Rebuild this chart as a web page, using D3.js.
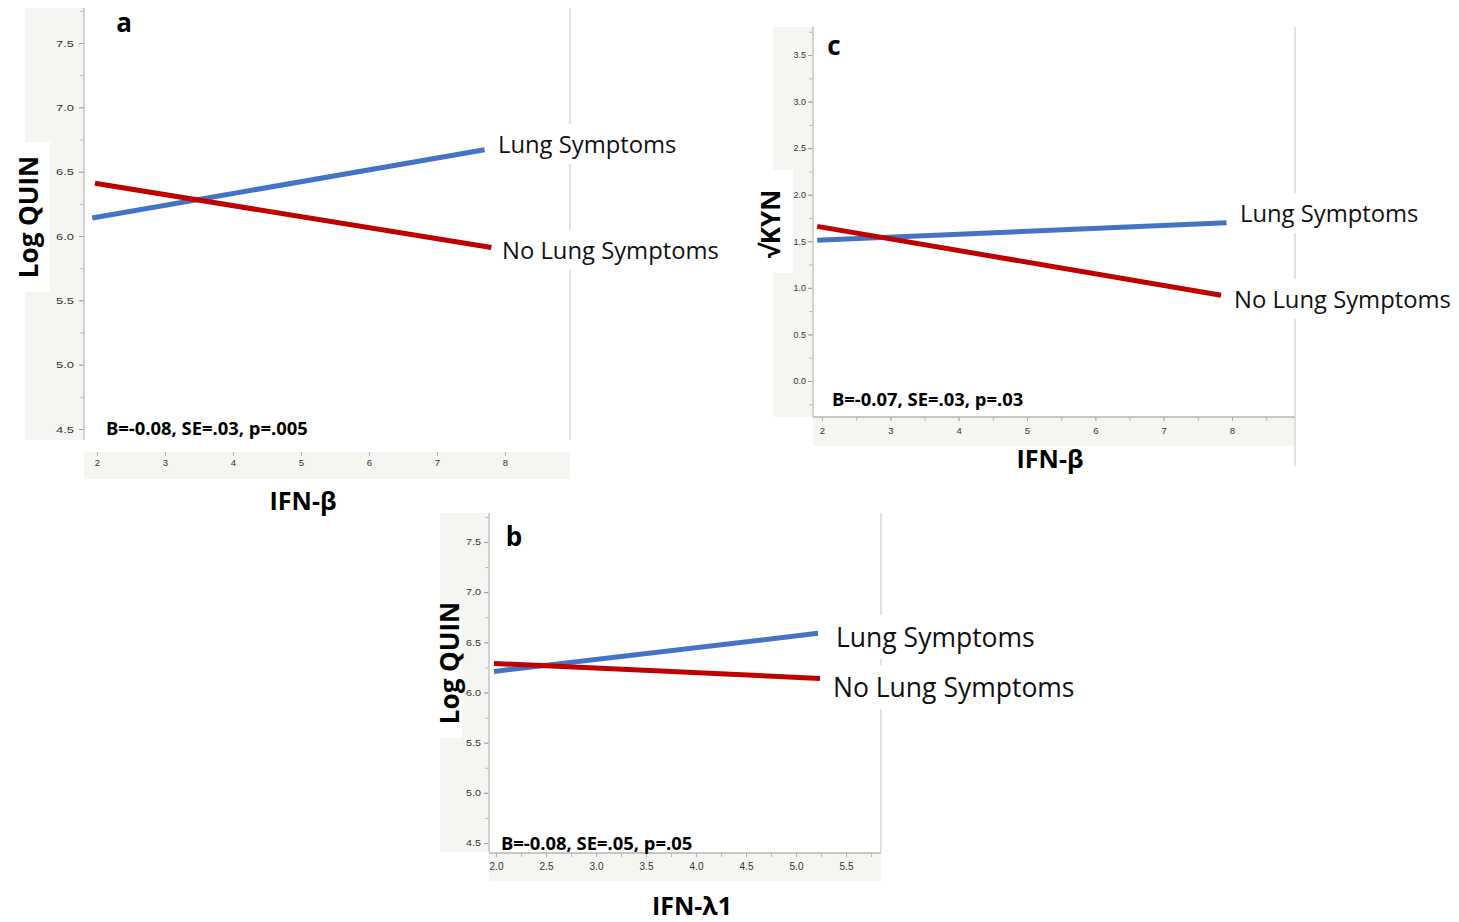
<!DOCTYPE html>
<html>
<head>
<meta charset="utf-8">
<script src="https://cdn.jsdelivr.net/npm/d3@7"></script>
<style>
  html, body { margin: 0; padding: 0; background: #fff; }
  svg { display: block; }
</style>
</head>
<body>
<svg id="chart" width="1459" height="922"></svg>
<script>
// ---------- DATA ----------
const groupNames = ["Lung Symptoms", "No Lung Symptoms"];

// Panel a : Log QUIN vs IFN-β
const aLungX = [1.93, 7.70];
const aLungY = [6.14, 6.67];
const aNoLungX = [1.97, 7.80];
const aNoLungY = [6.41, 5.91];
const aYTicks = [4.5, 5.0, 5.5, 6.0, 6.5, 7.0, 7.5];
const aXTicks = [2, 3, 4, 5, 6, 7, 8];

// Panel c : √KYN vs IFN-β
const cLungX = [1.93, 7.92];
const cLungY = [1.51, 1.70];
const cNoLungX = [1.93, 7.84];
const cNoLungY = [1.66, 0.92];
const cYTicks = [0.0, 0.5, 1.0, 1.5, 2.0, 2.5, 3.0, 3.5];
const cXTicks = [2, 3, 4, 5, 6, 7, 8];

// Panel b : Log QUIN vs IFN-λ1
const bLungX = [1.98, 5.22];
const bLungY = [6.21, 6.59];
const bNoLungX = [1.98, 5.24];
const bNoLungY = [6.29, 6.14];
const bYTicks = [4.5, 5.0, 5.5, 6.0, 6.5, 7.0, 7.5];
const bXTicks = [2.0, 2.5, 3.0, 3.5, 4.0, 4.5, 5.0, 5.5];

const colors = { lung: "#4472c4", noLung: "#c00000" };
const bandFill = "#f5f5f1";

// ---------- DRAWING ----------
const svg = d3.select("#chart");

function drawPanel(p) {
  const g = svg.append("g");
  const x = d3.scaleLinear().domain(p.xDom).range(p.xRng);
  const y = d3.scaleLinear().domain(p.yDom).range(p.yRng);

  // y-axis band
  g.append("rect").attr("x", p.bandLeft).attr("y", p.top)
    .attr("width", p.left - p.bandLeft).attr("height", p.bottom - p.top)
    .attr("fill", bandFill);
  // x-axis band
  g.append("rect").attr("x", p.left).attr("y", p.xBandTop)
    .attr("width", p.right - p.left).attr("height", p.xBandBottom - p.xBandTop)
    .attr("fill", bandFill);

  // right border
  g.append("line").attr("x1", p.right).attr("x2", p.right)
    .attr("y1", p.top).attr("y2", p.rightBottom)
    .attr("stroke", "#d4d4d4").attr("stroke-width", 1.3);

  // y axis
  const yMinor = d3.range(p.yDom[0] - p.yMinorStep * 2, p.yDom[1] + p.yMinorStep * 2, p.yMinorStep)
    .filter(v => y(v) >= p.top && y(v) <= p.bottom);
  const yAxisMinor = d3.axisLeft(y).tickValues(yMinor).tickSize(4).tickFormat("");
  const gym = g.append("g").attr("transform", `translate(${p.left},0)`).call(yAxisMinor);
  gym.select(".domain").remove();
  gym.selectAll("line").attr("stroke", "#b8b8b8");

  const yAxis = d3.axisLeft(y).tickValues(p.yTicks).tickSize(5).tickPadding(p.yPad)
    .tickFormat(d3.format(".1f"));
  const gy = g.append("g").attr("transform", `translate(${p.left},0)`).call(yAxis);
  gy.select(".domain").remove();
  gy.selectAll("line").attr("stroke", "#a0a0a0");
  gy.selectAll("text").attr("font-family", "Liberation Sans, Arial, sans-serif")
    .attr("font-size", p.yTickSize).attr("fill", "#333")
    .attr("textLength", p.yTickWidth).attr("lengthAdjust", "spacingAndGlyphs");
  g.append("line").attr("x1", p.left).attr("x2", p.left)
    .attr("y1", p.top).attr("y2", p.bottom).attr("stroke", "#c4c4c4").attr("stroke-width", 1.5);

  // x axis
  if (p.xMinorStep) {
    const xMinor = d3.range(p.xDom[0] - p.xMinorStep * 2, p.xDom[1] + p.xMinorStep * 4, p.xMinorStep)
      .filter(v => x(v) >= p.left && x(v) <= p.right);
    const gxm = g.append("g").attr("transform", `translate(0,${p.xBandTop})`)
      .call(d3.axisBottom(x).tickValues(xMinor).tickSize(4).tickFormat(""));
    gxm.select(".domain").remove();
    gxm.selectAll("line").attr("stroke", "#b8b8b8");
  }
  const xAxis = d3.axisBottom(x).tickValues(p.xTicks).tickSize(4).tickPadding(p.xPad)
    .tickFormat(p.xFormat);
  const gx = g.append("g").attr("transform", `translate(0,${p.xBandTop})`).call(xAxis);
  gx.select(".domain").remove();
  gx.selectAll("line").attr("stroke", "#b0b0b0");
  gx.selectAll("text").attr("font-family", "Liberation Sans, Arial, sans-serif")
    .attr("font-size", p.xTickSize).attr("fill", "#333");
  if (p.xAxisLine) {
    g.append("line").attr("x1", p.left).attr("x2", p.right)
      .attr("y1", p.xBandTop).attr("y2", p.xBandTop)
      .attr("stroke", "#b4b4b4").attr("stroke-width", 1.5);
  }

  // series lines
  const line = d3.line().x(d => x(d[0])).y(d => y(d[1]));
  const series = [
    { xs: p.lungX, ys: p.lungY, color: colors.lung },
    { xs: p.noLungX, ys: p.noLungY, color: colors.noLung }
  ];
  series.forEach(s => {
    g.append("path").datum(d3.zip(s.xs, s.ys)).attr("d", line)
      .attr("fill", "none").attr("stroke", s.color).attr("stroke-width", 5);
  });

  // series labels with white backing
  p.labels.forEach((lb, i) => {
    const bg = g.append("rect").attr("fill", "#fff");
    const t = g.append("text").attr("x", lb.x).attr("y", lb.y)
      .attr("dominant-baseline", "central")
      .attr("font-family", "Open Sans, sans-serif").attr("font-size", p.labelSize)
      .attr("fill", "#111").text(groupNames[i]);
    const bb = t.node().getBBox();
    bg.attr("x", bb.x - 6).attr("y", bb.y - 4)
      .attr("width", bb.width + 12).attr("height", bb.height + 8);
  });

  // y title with white box
  g.append("rect").attr("x", p.yBox[0]).attr("y", p.yBox[1])
    .attr("width", p.yBox[2]).attr("height", p.yBox[3]).attr("fill", "#fff");
  g.append("text").attr("transform", `translate(${p.yTitlePos[0]},${p.yTitlePos[1]}) rotate(-90)`)
    .attr("text-anchor", "middle").attr("dominant-baseline", "central")
    .attr("font-family", "Open Sans, sans-serif").attr("font-weight", "bold")
    .attr("font-size", 26).attr("fill", "#000").text(p.yTitle);

  // panel letter
  g.append("text").attr("x", p.letterPos[0]).attr("y", p.letterPos[1])
    .attr("text-anchor", "middle").attr("dominant-baseline", "central")
    .attr("font-family", "Open Sans, sans-serif").attr("font-weight", "bold")
    .attr("font-size", 26).attr("fill", "#000").text(p.letter);

  // stats
  g.append("text").attr("x", p.statPos[0]).attr("y", p.statPos[1])
    .attr("dominant-baseline", "central")
    .attr("font-family", "Open Sans, sans-serif").attr("font-weight", "bold")
    .attr("font-size", 18.4).attr("fill", "#000").text(p.stat);

  // x title
  g.append("text").attr("x", p.xTitlePos[0]).attr("y", p.xTitlePos[1])
    .attr("text-anchor", "middle").attr("dominant-baseline", "central")
    .attr("font-family", "Open Sans, sans-serif").attr("font-weight", "bold")
    .attr("font-size", 25).attr("fill", "#000").text(p.xTitle);
}

drawPanel({
  xDom: [2, 8], xRng: [97, 505], yDom: [4.5, 7.5], yRng: [429, 43],
  left: 84, right: 570, top: 8, bottom: 440, bandLeft: 25, rightBottom: 440,
  xBandTop: 452, xBandBottom: 479, xAxisLine: false, xMinorStep: null,
  yMinorStep: 0.25, yTicks: aYTicks, xTicks: aXTicks, xFormat: d3.format("d"),
  yTickSize: 9.5, yTickWidth: 18, yPad: 5, xTickSize: 9.5, xPad: 3,
  lungX: aLungX, lungY: aLungY, noLungX: aNoLungX, noLungY: aNoLungY,
  labels: [{ x: 498, y: 144 }, { x: 502, y: 250 }], labelSize: 23.8,
  yBox: [25, 142, 25, 150], yTitlePos: [28, 217], yTitle: "Log QUIN",
  letter: "a", letterPos: [124, 22],
  stat: "B=-0.08, SE=.03, p=.005", statPos: [106, 427],
  xTitle: "IFN-β", xTitlePos: [303, 500]
});

drawPanel({
  xDom: [2, 8], xRng: [822, 1232], yDom: [0, 3.5], yRng: [381, 55],
  left: 813, right: 1295, top: 27, bottom: 417, bandLeft: 773, rightBottom: 466,
  xBandTop: 417, xBandBottom: 446, xAxisLine: true, xMinorStep: 0.5,
  yMinorStep: 0.25, yTicks: cYTicks, xTicks: cXTicks, xFormat: d3.format("d"),
  yTickSize: 8.5, yTickWidth: 12.5, yPad: 2, xTickSize: 9.5, xPad: 6,
  lungX: cLungX, lungY: cLungY, noLungX: cNoLungX, noLungY: cNoLungY,
  labels: [{ x: 1240, y: 213 }, { x: 1234, y: 299 }], labelSize: 23.8,
  yBox: [773, 170, 20, 103], yTitlePos: [770, 224], yTitle: "√KYN",
  letter: "c", letterPos: [834, 45],
  stat: "B=-0.07, SE=.03, p=.03", statPos: [832, 398],
  xTitle: "IFN-β", xTitlePos: [1050, 458]
});

drawPanel({
  xDom: [2, 5.5], xRng: [496, 846], yDom: [4.5, 7.5], yRng: [843, 542],
  left: 489, right: 881, top: 513, bottom: 852, bandLeft: 440, rightBottom: 852,
  xBandTop: 853, xBandBottom: 881, xAxisLine: true, xMinorStep: 0.25,
  yMinorStep: 0.25, yTicks: bYTicks, xTicks: bXTicks, xFormat: d3.format(".1f"),
  yTickSize: 8.5, yTickWidth: 15, yPad: 3, xTickSize: 10, xPad: 6,
  lungX: bLungX, lungY: bLungY, noLungX: bNoLungX, noLungY: bNoLungY,
  labels: [{ x: 836, y: 637 }, { x: 833, y: 687 }], labelSize: 26.5,
  yBox: [440, 620, 22, 118], yTitlePos: [449, 663], yTitle: "Log QUIN",
  letter: "b", letterPos: [514, 536],
  stat: "B=-0.08, SE=.05, p=.05", statPos: [501, 842],
  xTitle: "IFN-λ1", xTitlePos: [692, 905]
});
</script>
</body>
</html>
